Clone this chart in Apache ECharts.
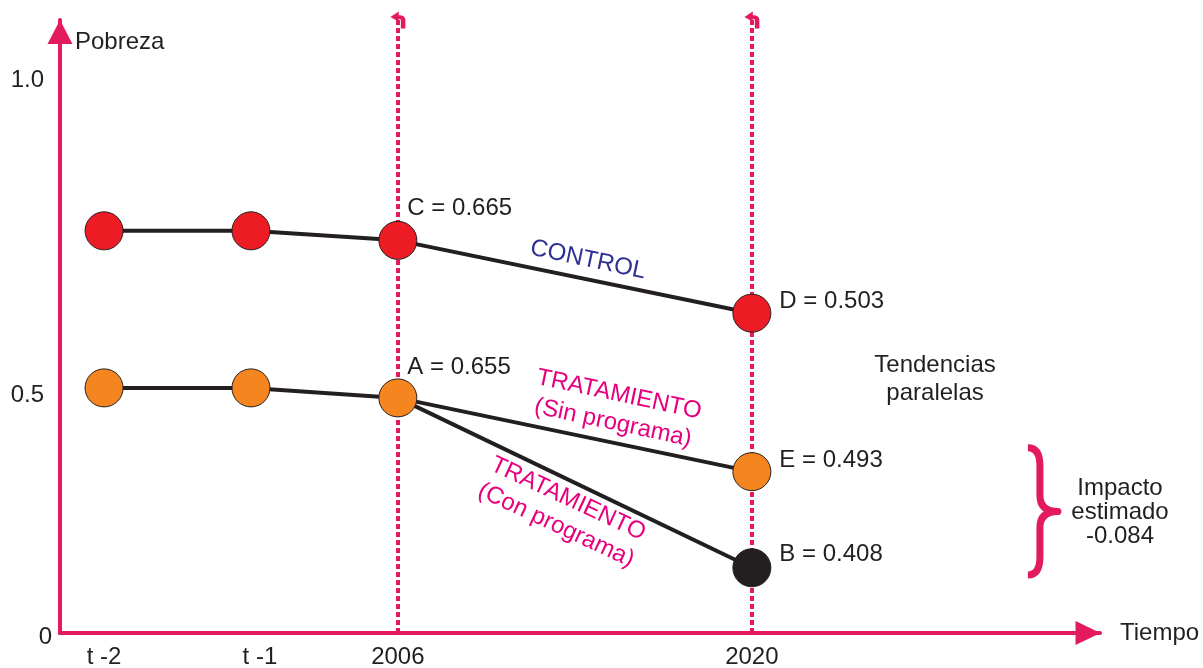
<!DOCTYPE html>
<html><head><meta charset="utf-8">
<script src="https://cdn.jsdelivr.net/npm/echarts@6/dist/echarts.min.js"></script>
<style>html,body{margin:0;padding:0;background:#fff}#c{width:1203px;height:668px}</style>
</head><body><div id="c"></div>
<script>
// ---- data (schematic chart units) ----
const xTickPositions = [0.3, 1.3, 2.3, 4.71];
const xTickLabels = ['t -2', 't -1', '2006', '2020'];
const yTickPositions = [0, 0.5, 1.162];
const yTickLabels = ['0', '0.5', '1.0'];
const controlX = [0.3, 1.3, 2.3, 4.71];
const controlValues = [0.845, 0.845, 0.825, 0.672];
const sinProgramaX = [0.3, 1.3, 2.3, 4.71];
const sinProgramaValues = [0.515, 0.515, 0.494, 0.339];
const conProgramaX = [2.3, 4.71];
const conProgramaValues = [0.494, 0.137];
const controlPointLabels = ['', '', 'C = 0.665', 'D = 0.503'];
const sinProgramaPointLabels = ['', '', 'A = 0.655', 'E = 0.493'];
const conProgramaPointLabels = ['', 'B = 0.408'];
const verticalLineX = [2.3, 4.71];
const annotationTexts = ['CONTROL', 'TRATAMIENTO\n(Sin programa)', 'TRATAMIENTO\n(Con programa)', 'Tendencias\nparalelas', 'Impacto\nestimado\n-0.084'];
const annotationX = [3.595, 3.785, 3.418, 5.957, 7.216];
const annotationY = [0.784, 0.471, 0.254, 0.532, 0.254];
const braceRange = [6.671, 0.389, 0.122];

// ---- styles ----
const FONT = 'Liberation Sans, Arial, Helvetica, sans-serif';
const AXIS = '#e31b5d';
const INK = '#231f20';
const annotationColors = ['#2e3192', '#e6007e', '#e6007e', INK, INK];
const annotationRotate = [-12, -12, -25, 0, 0];
const annotationLineHeight = [28, 29, 29, 28, 24];

function nearestIndex(arr, v) {
  let bi = 0, bd = Infinity;
  arr.forEach((a, i) => { const d = Math.abs(a - v); if (d < bd) { bd = d; bi = i; } });
  return bi;
}

function pointData(xs, ys, labels, offsets, noFirstSymbol) {
  return xs.map((x, i) => {
    const item = { value: [x, ys[i]] };
    if (noFirstSymbol && i === 0) { item.symbol = 'none'; }
    if (labels[i]) {
      item.label = { show: true, position: 'right', formatter: labels[i], offset: offsets[i],
        fontSize: 24, fontFamily: FONT, color: INK };
    }
    return item;
  });
}

const markerStyle = c => ({ color: c, borderColor: INK, borderWidth: 1, opacity: 1 });
const hook = 'path://M8 14 L8 7 C8 4 6.5 3 4.5 3 L4.5 0 L0 4.5 L4.5 8.5 L4.5 6 C5.3 6 5.6 6.6 5.6 7.4 L5.6 14 Z';

const chart = echarts.init(document.getElementById('c'), null, { renderer: 'canvas' });
chart.setOption({
  animation: false,
  backgroundColor: '#fff',
  grid: { left: 60, right: 103, top: 20, bottom: 35, containLabel: false, outerBoundsMode: 'none' },
  xAxis: {
    type: 'value', min: 0, max: 7.08,
    name: 'Tiempo', nameLocation: 'end', nameGap: 20,
    nameTextStyle: { fontSize: 24, fontFamily: FONT, color: INK, align: 'left', verticalAlign: 'middle' },
    axisLine: { show: true, onZero: false, lineStyle: { color: AXIS, width: 4 },
      symbol: ['none', 'triangle'], symbolSize: [24, 25], symbolOffset: [0, -12] },
    axisTick: { show: false },
    splitLine: { show: false },
    axisLabel: {
      customValues: xTickPositions, margin: 12,
      fontSize: 24, fontFamily: FONT, color: INK,
      formatter: v => {
        const i = nearestIndex(xTickPositions, v);
        return i === 1 ? '{s|' + xTickLabels[i] + '}' : xTickLabels[i];
      },
      rich: { s: { fontSize: 24, fontFamily: FONT, color: INK, padding: [0, 0, 0, 18] } }
    }
  },
  yAxis: {
    type: 'value', min: 0, max: 1.288,
    name: 'Pobreza', nameLocation: 'end', nameGap: -22,
    nameTextStyle: { fontSize: 24, fontFamily: FONT, color: INK, align: 'left', verticalAlign: 'middle', padding: [0, 0, 0, 15] },
    axisLine: { show: true, onZero: false, lineStyle: { color: AXIS, width: 4 },
      symbol: ['none', 'triangle'], symbolSize: [25, 24], symbolOffset: [0, -12] },
    axisTick: { show: false },
    splitLine: { show: false },
    axisLabel: {
      customValues: yTickPositions, margin: 8,
      fontSize: 24, fontFamily: FONT, color: INK,
      formatter: v => {
        const i = nearestIndex(yTickPositions, v);
        return i === 0 ? '{z|' + yTickLabels[i] + '}' : '{n|' + yTickLabels[i] + '}';
      },
      rich: {
        z: { fontSize: 24, fontFamily: FONT, color: INK, padding: [8, 0, 0, 0] },
        n: { fontSize: 24, fontFamily: FONT, color: INK, padding: [0, 8, 0, 0] }
      }
    }
  },
  series: [
    {
      name: 'verticales', type: 'line', data: [], z: 1, silent: true,
      markLine: {
        silent: true, animation: false, z: 1,
        symbol: ['none', hook], symbolSize: [15, 17], symbolRotate: 0,
        label: { show: false },
        emphasis: { disabled: true },
        lineStyle: { color: AXIS, width: 4, type: [5, 3], opacity: 1 },
        data: verticalLineX.map(x => [{ coord: [x, 0] }, { coord: [x, 1.288] }])
      }
    },
    {
      name: 'Tratamiento (Con programa)', type: 'line', z: 2,
      symbol: 'circle', symbolSize: 38,
      lineStyle: { color: INK, width: 4 },
      itemStyle: markerStyle(INK),
      data: pointData(conProgramaX, conProgramaValues, conProgramaPointLabels, [null, [3, -13]], true)
    },
    {
      name: 'Tratamiento (Sin programa)', type: 'line', z: 3,
      symbol: 'circle', symbolSize: 38,
      lineStyle: { color: INK, width: 4 },
      itemStyle: markerStyle('#f5861f'),
      data: pointData(sinProgramaX, sinProgramaValues, sinProgramaPointLabels, [null, null, [-15, -31], [3, -11]], false)
    },
    {
      name: 'Control', type: 'line', z: 3,
      symbol: 'circle', symbolSize: 38,
      lineStyle: { color: INK, width: 4 },
      itemStyle: markerStyle('#ed1c24'),
      data: pointData(controlX, controlValues, controlPointLabels, [null, null, [-15, -32], [3, -12]], false)
    },
    {
      name: 'anotaciones', type: 'scatter', z: 5, clip: false, silent: true,
      symbol: 'circle', symbolSize: 1,
      itemStyle: { color: 'rgba(0,0,0,0)', opacity: 1 },
      data: annotationTexts.map((t, i) => ({
        value: [annotationX[i], annotationY[i]],
        label: { show: true, position: 'inside', formatter: t, rotate: annotationRotate[i],
          align: 'center', verticalAlign: 'middle', opacity: 1,
          fontSize: 24, lineHeight: annotationLineHeight[i], fontFamily: FONT, color: annotationColors[i] }
      }))
    },
    {
      name: 'llave', type: 'custom', z: 5, silent: true, clip: false,
      data: [braceRange],
      renderItem: (params, api) => {
        const top = api.coord([api.value(0), api.value(1)]);
        const bot = api.coord([api.value(0), api.value(2)]);
        const xm = top[0], x0 = xm - 12, x1 = xm + 18;
        const yT = top[1], yB = bot[1], yM = (yT + yB) / 2;
        const d = 'M' + x0 + ',' + yT + ' Q' + xm + ',' + yT + ' ' + xm + ',' + (yT + 18) +
          ' L' + xm + ',' + (yM - 16) + ' Q' + xm + ',' + yM + ' ' + x1 + ',' + yM +
          ' Q' + xm + ',' + yM + ' ' + xm + ',' + (yM + 16) +
          ' L' + xm + ',' + (yB - 18) + ' Q' + xm + ',' + yB + ' ' + x0 + ',' + yB;
        return { type: 'path', shape: { pathData: d },
          style: { fill: 'none', stroke: AXIS, lineWidth: 7, lineJoin: 'round', lineCap: 'butt' } };
      }
    }
  ]
});
</script>
</body></html>
